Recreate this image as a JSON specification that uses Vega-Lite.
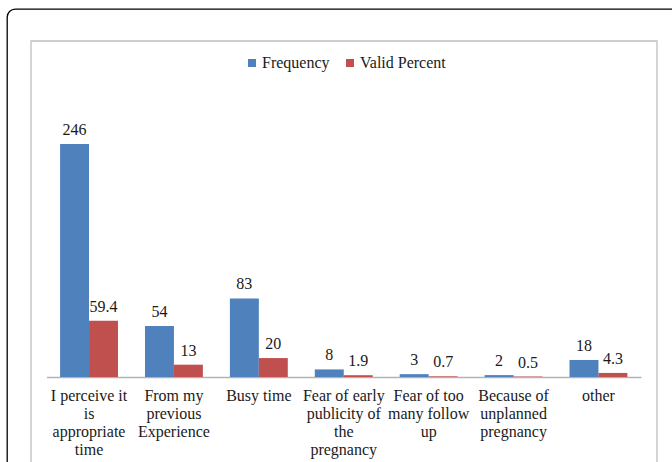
{
  "$schema": "https://vega.github.io/schema/vega-lite/v6.json",
  "width": 680,
  "height": 470,
  "autosize": {"type": "none"},
  "padding": {"left": 7, "top": 9, "right": 0, "bottom": 0},
  "background": "white",
  "config": {
    "view": {"stroke": "#000000", "strokeWidth": 1.3, "cornerRadius": 8},
    "font": "Liberation Serif"
  },
  "layer": [
    {
      "data": {"values": [{"box": "chart area"}]},
      "mark": {"type": "rect", "fill": "white", "fillOpacity": 0, "stroke": "#bfbfbf", "strokeWidth": 1.3},
      "encoding": {
        "x": {"datum": 0, "type": "quantitative", "scale": {"domain": [0, 1], "range": [24, 650]}, "axis": null},
        "x2": {"datum": 1},
        "y": {"datum": 0, "type": "quantitative", "scale": {"domain": [0, 1], "range": [32, 490]}, "axis": null},
        "y2": {"datum": 1}
      }
    },
    {
      "data": {
        "values": [
          {"reason": "I perceive it is appropriate time", "series": "Frequency", "value": 246},
          {"reason": "I perceive it is appropriate time", "series": "Valid Percent", "value": 59.4},
          {"reason": "From my previous Experience", "series": "Frequency", "value": 54},
          {"reason": "From my previous Experience", "series": "Valid Percent", "value": 13},
          {"reason": "Busy time", "series": "Frequency", "value": 83},
          {"reason": "Busy time", "series": "Valid Percent", "value": 20},
          {"reason": "Fear of early publicity of the pregnancy", "series": "Frequency", "value": 8},
          {"reason": "Fear of early publicity of the pregnancy", "series": "Valid Percent", "value": 1.9},
          {"reason": "Fear of too many follow up", "series": "Frequency", "value": 3},
          {"reason": "Fear of too many follow up", "series": "Valid Percent", "value": 0.7},
          {"reason": "Because of unplanned pregnancy", "series": "Frequency", "value": 2},
          {"reason": "Because of unplanned pregnancy", "series": "Valid Percent", "value": 0.5},
          {"reason": "other", "series": "Frequency", "value": 18},
          {"reason": "other", "series": "Valid Percent", "value": 4.3}
        ]
      },
      "encoding": {
        "x": {
          "field": "reason",
          "type": "nominal",
          "sort": null,
          "scale": {"range": [39.5, 634], "paddingInner": 0.318, "paddingOuter": 0.16},
          "axis": {
            "orient": "bottom",
            "offset": -102,
            "title": null,
            "ticks": false,
            "domainColor": "#b3b3b3",
            "domainWidth": 1.3,
            "labelAngle": 0,
            "labelFont": "Liberation Serif",
            "labelFontSize": 16,
            "labelColor": "#1a1a1a",
            "labelPadding": 10,
            "labelLineHeight": 18,
            "labelBaseline": "top",
            "labelLimit": 0,
            "labelExpr": "{'I perceive it is appropriate time': ['I perceive it', 'is', 'appropriate', 'time'], 'From my previous Experience': ['From my', 'previous', 'Experience'], 'Busy time': 'Busy time', 'Fear of early publicity of the pregnancy': ['Fear of early', 'publicity of', 'the', 'pregnancy'], 'Fear of too many follow up': ['Fear of too', 'many follow', 'up'], 'Because of unplanned pregnancy': ['Because of', 'unplanned', 'pregnancy'], 'other': 'other'}[datum.value]"
          }
        },
        "xOffset": {
          "field": "series",
          "type": "nominal",
          "sort": ["Frequency", "Valid Percent"],
          "scale": {"paddingInner": 0, "paddingOuter": 0}
        },
        "y": {
          "field": "value",
          "type": "quantitative",
          "scale": {"domain": [0, 300], "range": [368, 84], "nice": false, "zero": true},
          "axis": null
        }
      },
      "layer": [
        {
          "mark": {"type": "bar"},
          "encoding": {
            "color": {
              "field": "series",
              "type": "nominal",
              "sort": ["Frequency", "Valid Percent"],
              "scale": {"range": ["#4f81bd", "#c0504d"]},
              "legend": {
                "orient": "none",
                "legendX": 237,
                "legendY": 46,
                "direction": "horizontal",
                "title": null,
                "symbolType": "square",
                "symbolSize": 64,
                "symbolStrokeWidth": 0,
                "labelFont": "Liberation Serif",
                "labelFontSize": 16,
                "labelColor": "#1a1a1a",
                "labelOffset": 2,
                "columnPadding": 12
              }
            }
          }
        },
        {
          "mark": {"type": "text", "baseline": "alphabetic", "dy": -9, "fontSize": 16, "font": "Liberation Serif", "color": "#1a1a1a"},
          "encoding": {
            "text": {"field": "value", "type": "quantitative"}
          }
        }
      ]
    }
  ],
  "resolve": {"scale": {"x": "independent", "y": "independent"}}
}
